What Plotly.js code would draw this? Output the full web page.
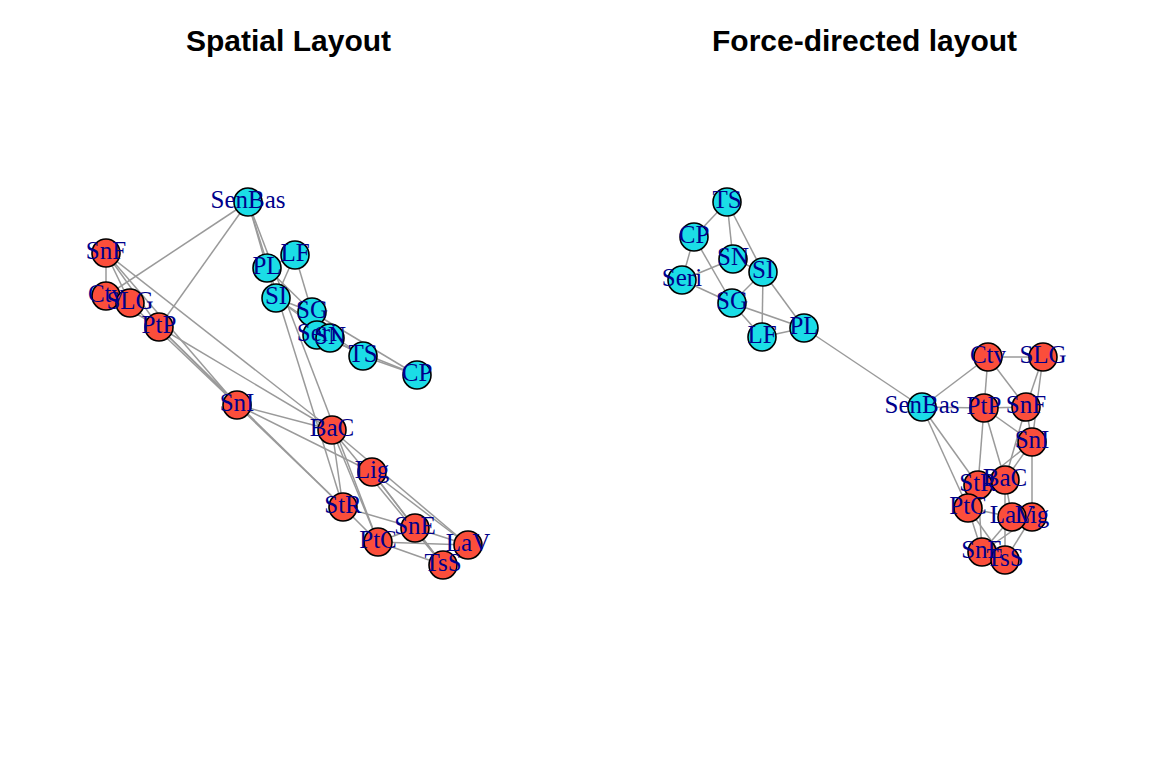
<!DOCTYPE html>
<html>
<head>
<meta charset="utf-8">
<script src="https://cdn.plot.ly/plotly-3.0.1.min.js"></script>
<style>body{margin:0;background:#fff}#plot{width:1152px;height:768px}</style>
</head>
<body>
<div id="plot"></div>
<script>
// node names and groups
var nodes = ['SenBas','LF','PL','SI','SG','Seri','SN','TS','CP',
             'SnF','Ctv','SLG','PtP','SnI','BaC','Lig','StR','PtC','SnE','LaV','TsS'];
var groups = ['c','c','c','c','c','c','c','c','c',
              'r','r','r','r','r','r','r','r','r','r','r','r'];

// spatial layout coordinates
var spatialX = [248,295,267,276,312,317,330,363,417,106,106,130,159,237,332,372,343,378,415,468,443];
var spatialY = [202,255,268,298,312,335,338,356,375,253,296,303,327,405,430,472,507,542,528,545,565];

// force-directed layout coordinates
var forceX = [922,762,804,763,732,682,733,727,694,1026,988,1043,984,1032,1005,1032,978,968,982,1012,1005];
var forceY = [407,337,328,272,303,280,259,202,237,407,357,357,408,442,480,517,485,508,552,517,560];

var edges = [
  ['TS','CP'],['TS','SN'],['TS','SI'],['CP','Seri'],['CP','SG'],['Seri','SN'],['Seri','SG'],
  ['SN','SI'],['SI','SG'],['SI','LF'],['SI','PL'],['SG','PL'],['LF','PL'],['SG','LF'],['PL','SenBas'],
  ['SenBas','Ctv'],['SenBas','PtP'],['SenBas','StR'],['SenBas','PtC'],
  ['Ctv','SLG'],['Ctv','PtP'],['Ctv','SnF'],['SLG','SnF'],['SLG','SnI'],['PtP','SnF'],['PtP','SnI'],
  ['PtP','StR'],['SnF','SnI'],['SnF','BaC'],['SnI','BaC'],['SnI','StR'],['SnI','Lig'],['BaC','StR'],
  ['BaC','PtC'],['BaC','TsS'],['BaC','LaV'],['StR','PtC'],['StR','SnE'],['PtC','SnE'],['PtC','LaV'],
  ['LaV','Lig'],['Lig','TsS'],['SnE','TsS'],['LaV','SnE'],['Lig','SnE'],['PtC','TsS'],['PtP','BaC']
];

var colors = groups.map(function(g){ return g === 'c' ? '#1bdde6' : '#fb4e3b'; });

function panel(xs, ys, xa, ya) {
  var ex = [], ey = [];
  edges.forEach(function(e){
    var a = nodes.indexOf(e[0]), b = nodes.indexOf(e[1]);
    ex.push(xs[a], xs[b], null);
    ey.push(ys[a], ys[b], null);
  });
  return [
    {x: ex, y: ey, xaxis: xa, yaxis: ya, mode: 'lines', type: 'scatter',
     line: {color: '#9a9a9a', width: 1.5}, hoverinfo: 'skip'},
    {x: xs, y: ys, xaxis: xa, yaxis: ya, mode: 'markers', type: 'scatter',
     marker: {size: 28, color: colors, line: {color: '#000', width: 1.6}}},
    {x: xs, y: ys, xaxis: xa, yaxis: ya, mode: 'text', type: 'scatter', text: nodes,
     textposition: 'middle center',
     textfont: {family: 'Liberation Serif, Times New Roman, serif', size: 25, color: '#00008b'}}
  ];
}

var data = panel(spatialX, spatialY, 'x', 'y').concat(panel(forceX, forceY, 'x2', 'y2'));

var ax = {visible: false, fixedrange: true};
var layout = {
  width: 1152, height: 768, showlegend: false,
  margin: {l: 0, r: 0, t: 0, b: 0},
  paper_bgcolor: '#fff', plot_bgcolor: '#fff',
  xaxis: Object.assign({domain: [0, 0.5], range: [0, 576]}, ax),
  yaxis: Object.assign({range: [768, 0]}, ax),
  xaxis2: Object.assign({domain: [0.5, 1], range: [576, 1152]}, ax),
  yaxis2: Object.assign({range: [768, 0], anchor: 'x2'}, ax),
  annotations: [
    {text: '<b>Spatial Layout</b>', x: 288, y: 40, xref: 'x', yref: 'y',
     showarrow: false, font: {family: 'Liberation Sans, Arial', size: 30, color: '#000'}},
    {text: '<b>Force-directed layout</b>', x: 864, y: 40, xref: 'x2', yref: 'y2',
     showarrow: false, font: {family: 'Liberation Sans, Arial', size: 30, color: '#000'}}
  ]
};

Plotly.newPlot('plot', data, layout, {staticPlot: true});
</script>
</body>
</html>
